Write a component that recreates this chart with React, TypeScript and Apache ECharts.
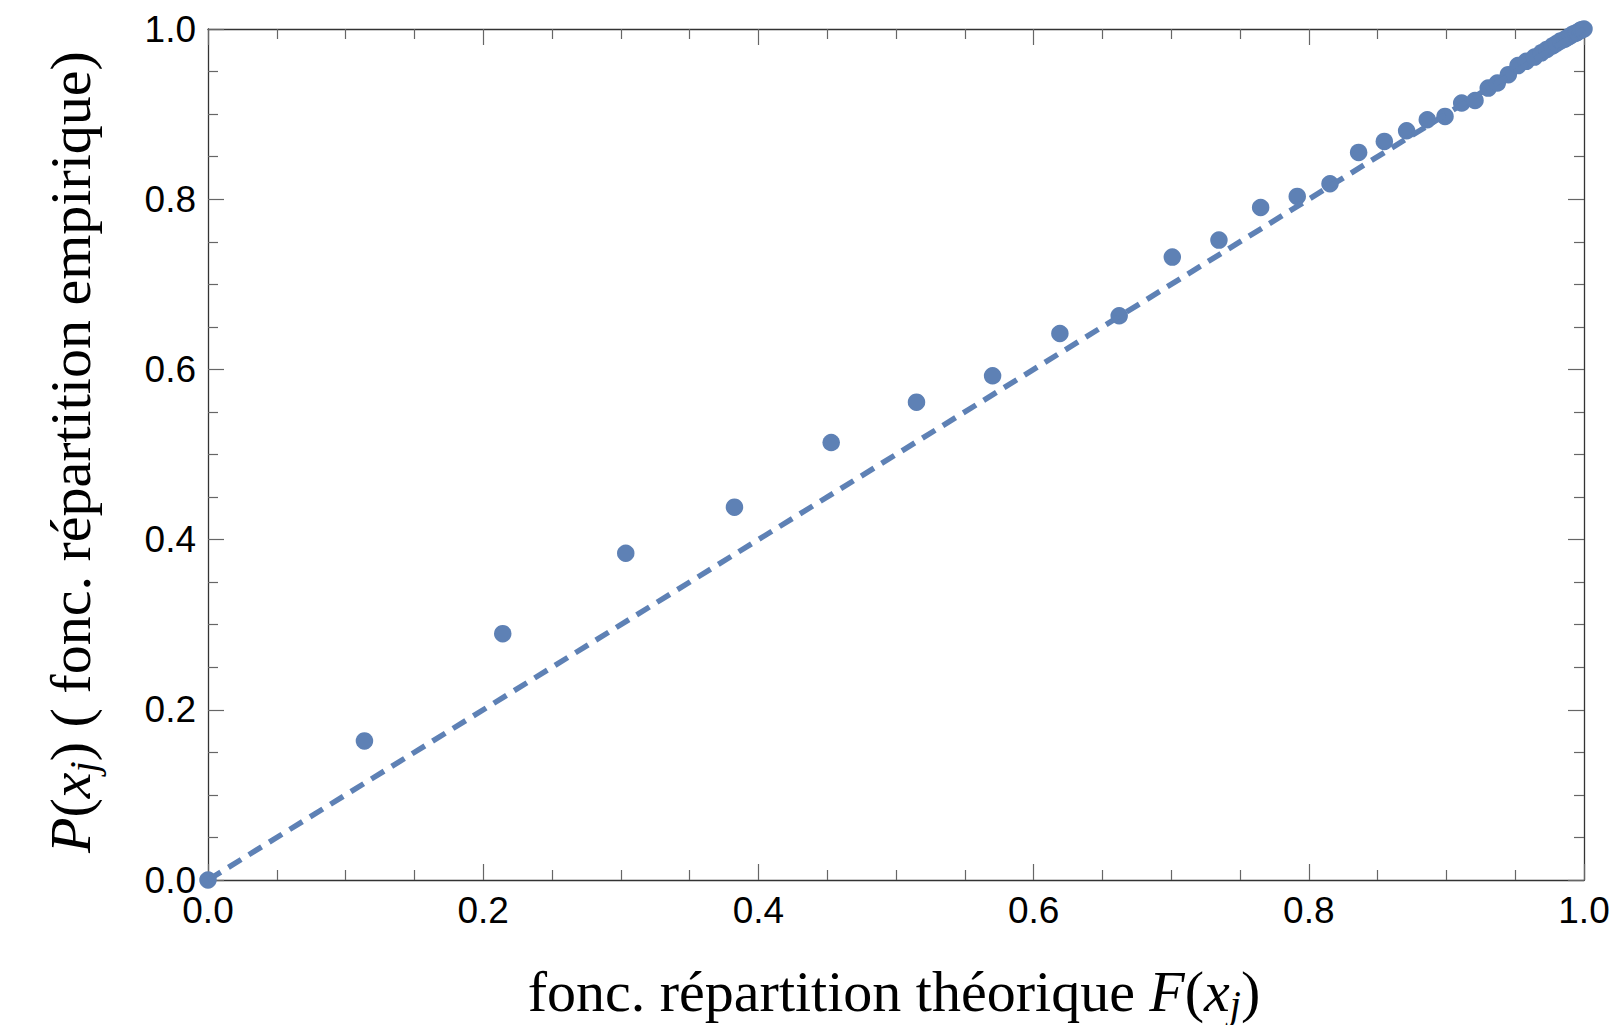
import React, { useEffect, useRef } from "react";
import * as echarts from "echarts";

const F_VALUES = [
  0, 0.1137, 0.2142, 0.3036, 0.3826, 0.4529, 0.5149, 0.5702, 0.6191, 0.6622,
  0.7008, 0.7347, 0.765, 0.7916, 0.8154, 0.8362, 0.8549, 0.8711, 0.8861, 0.899,
  0.9111, 0.9208, 0.9304, 0.937, 0.945, 0.952, 0.958, 0.964, 0.969, 0.973,
  0.977, 0.98, 0.983, 0.986, 0.988, 0.99, 0.992, 0.994, 0.995, 0.997, 0.998, 1.0,
];
const P_VALUES = [
  0, 0.1634, 0.2895, 0.384, 0.4381, 0.5141, 0.5615, 0.5925, 0.6422, 0.663,
  0.732, 0.752, 0.7903, 0.8033, 0.8182, 0.855, 0.8679, 0.8804, 0.8934, 0.8973,
  0.913, 0.916, 0.9306, 0.9365, 0.9463, 0.957, 0.962, 0.967, 0.972, 0.976,
  0.98, 0.983, 0.986, 0.988, 0.99, 0.992, 0.994, 0.995, 0.996, 0.998, 0.999, 1.0,
];
// Reference line y = x
const REF_X = [0, 1];
const REF_Y = [0, 1];

const AXIS_MIN = 0;
const AXIS_MAX = 1;
const AXIS_STEP = 0.2;

const BLUE = "#5E81B5";
const FRAME = "#333333";
const TICK = "#666666";

function frameAxis(position: string, showLabels: boolean) {
  return {
    type: "value",
    position,
    min: AXIS_MIN,
    max: AXIS_MAX,
    interval: AXIS_STEP,
    axisLine: { show: true, onZero: false, lineStyle: { color: FRAME, width: 1.3 } },
    axisTick: { show: true, inside: true, length: 16, lineStyle: { color: TICK, width: 1.2 } },
    minorTick: { show: true, splitNumber: 4, length: 10, lineStyle: { color: TICK, width: 1.2 } },
    splitLine: { show: false },
    minorSplitLine: { show: false },
    axisLabel: {
      show: showLabels,
      formatter: (v: number) => v.toFixed(1),
      fontFamily: "Liberation Sans",
      fontSize: 37,
      color: "#000",
      margin: 12,
    },
  };
}

export default function App() {
  const ref = useRef<HTMLDivElement>(null);

  useEffect(() => {
    if (!ref.current) return;
    const chart = echarts.init(ref.current, undefined, { renderer: "svg" });
    const points = F_VALUES.map((f, i) => [f, P_VALUES[i]]);
    const line = REF_X.map((x, i) => [x, REF_Y[i]]);
    const serif = "Liberation Serif";
    const rich = {
      n: { fontFamily: serif, fontSize: 58, lineHeight: 66, fill: "#000" },
      i: { fontFamily: serif, fontSize: 58, fontStyle: "italic", lineHeight: 66, fill: "#000" },
      s: { fontFamily: serif, fontSize: 40, fontStyle: "italic", lineHeight: 66, verticalAlign: "bottom", fill: "#000" },
    };
    chart.setOption({
      animation: false,
      backgroundColor: "#fff",
      grid: { left: 208, top: 29, right: 35, bottom: 145, containLabel: false },
      xAxis: [frameAxis("bottom", true), frameAxis("top", false)],
      yAxis: [frameAxis("left", true), frameAxis("right", false)],
      series: [
        {
          type: "scatter",
          xAxisIndex: 0,
          yAxisIndex: 0,
          data: points,
          symbol: "circle",
          symbolSize: 17.5,
          itemStyle: { color: BLUE, opacity: 1 },
          z: 2,
        },
        {
          type: "line",
          xAxisIndex: 0,
          yAxisIndex: 0,
          data: line,
          showSymbol: false,
          symbol: "none",
          lineStyle: { color: BLUE, width: 5.5, type: [15, 9], cap: "butt" },
          z: 3,
        },
      ],
      graphic: [
        {
          type: "text",
          x: 894,
          y: 991,
          style: {
            text: "{n|fonc. répartition théorique }{i|F}{n|(}{i|x}{s|j}{n|)}",
            textAlign: "center",
            textVerticalAlign: "middle",
            fill: "#000",
            rich,
          },
        },
        {
          type: "text",
          x: 70,
          y: 452,
          rotation: Math.PI / 2,
          style: {
            text: "{i|P}{n|(}{i|x}{s|j}{n|) ( fonc. répartition empirique)}",
            textAlign: "center",
            textVerticalAlign: "middle",
            fill: "#000",
            rich,
          },
        },
      ],
    });
    return () => chart.dispose();
  }, []);

  return (
    <div
      ref={ref}
      style={{ position: "absolute", left: 0, top: 0, width: 1619, height: 1025, background: "#fff" }}
    />
  );
}
